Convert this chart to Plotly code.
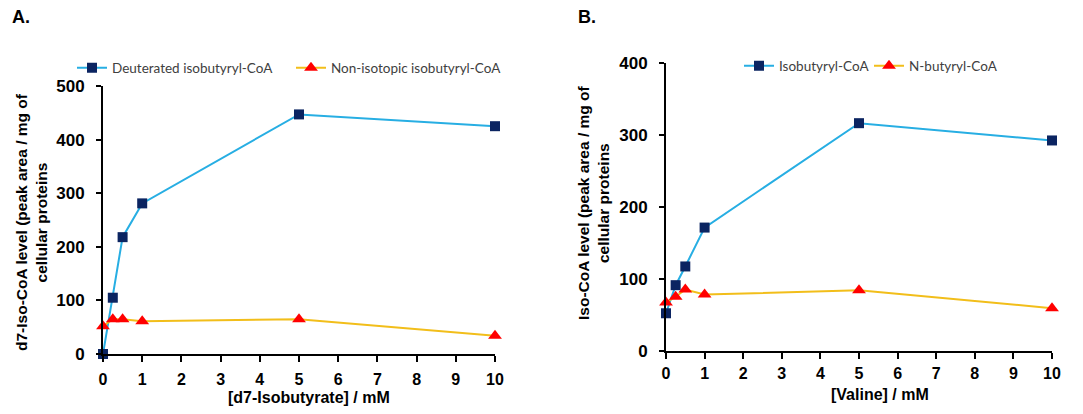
import plotly.graph_objects as go

conc = [0, 0.25, 0.5, 1, 5, 10]
a_deut = [0, 105, 218, 281, 447, 425]
a_nonis = [52, 65, 65, 61, 65, 34]
b_iso = [52, 91, 117, 171, 316, 292]
b_nbut = [67, 75, 85, 78, 84, 59]
x_ticks = list(range(0, 11))
a_yticks = [0, 100, 200, 300, 400, 500]
b_yticks = [0, 100, 200, 300, 400]

BLUE = "#27AEE3"
NAVY = "#0B2461"
YEL = "#F2BE1A"
RED = "#FF0000"

fig = go.Figure()

def add(x, y, name, line_c, mk_c, symbol, size, xa, ya, legend):
    fig.add_trace(go.Scatter(
        x=x, y=y, name=name, mode="lines+markers",
        line=dict(color=line_c, width=2),
        marker=dict(color=mk_c, symbol=symbol, size=size),
        xaxis=xa, yaxis=ya, legend=legend, cliponaxis=False))

add(conc, a_deut, "Deuterated isobutyryl-CoA", BLUE, NAVY, "square", 10, "x", "y", "legend")
add(conc, a_nonis, "Non-isotopic isobutyryl-CoA", YEL, RED, "triangle-up", 12, "x", "y", "legend")
add(conc, b_iso, "Isobutyryl-CoA", BLUE, NAVY, "square", 10, "x2", "y2", "legend2")
add(conc, b_nbut, "N-butyryl-CoA", YEL, RED, "triangle-up", 12, "x2", "y2", "legend2")

yfont = dict(family="Liberation Sans, Arial", size=17, color="black", weight="bold")
xfont = dict(family="Liberation Sans, Arial", size=16, color="black", weight="bold")
common_x = dict(range=[0, 10], tickvals=x_ticks, showgrid=False, zeroline=False,
                showline=True, linecolor="black", linewidth=2, ticks="outside",
                ticklen=6, tickwidth=1.5, tickcolor="black", tickfont=xfont)
common_y = dict(showgrid=False, zeroline=False, showline=True, linecolor="black",
                linewidth=2, ticks="outside", ticklen=5, tickwidth=1.5,
                tickcolor="black", ticklabelstandoff=8, tickfont=yfont)

legfont = dict(family="Lato, Open Sans", size=13.5, color="#404040")
fig.update_layout(
    width=1083, height=414,
    margin=dict(l=0, r=0, t=0, b=0, pad=0, autoexpand=False),
    paper_bgcolor="white", plot_bgcolor="white",
    xaxis=dict(common_x, domain=[103/1083, 495/1083], anchor="y", ticklabelstandoff=4),
    yaxis=dict(common_y, domain=[(414-354)/414, (414-86)/414], range=[0, 500],
               tickvals=a_yticks, anchor="x"),
    xaxis2=dict(common_x, domain=[666/1083, 1052/1083], anchor="y2", ticklabelstandoff=1),
    yaxis2=dict(common_y, domain=[(414-350.7)/414, (414-62.7)/414], range=[0, 400],
                tickvals=b_yticks, anchor="x2"),
    legend=dict(orientation="h", x=72/1083, y=1-68/414, xanchor="left", yanchor="middle",
                font=legfont, bgcolor="rgba(0,0,0,0)", itemwidth=30, entrywidth=174),
    legend2=dict(orientation="h", x=739/1083, y=1-66/414, xanchor="left", yanchor="middle",
                 font=legfont, bgcolor="rgba(0,0,0,0)", itemwidth=30, entrywidth=85),
    showlegend=True,
)

tfont = dict(family="Liberation Sans, Arial", size=15.5, color="black", weight="bold")
ann = [
    dict(text="A.", x=10/1083, y=1-17/414, xanchor="left", yanchor="middle",
         font=dict(tfont, size=18)),
    dict(text="B.", x=576/1083, y=1-17/414, xanchor="left", yanchor="middle",
         font=dict(tfont, size=18)),
    dict(text="d7-Iso-CoA level (peak area / mg of<br>cellular proteins", x=31/1083,
         y=1-222/414, textangle=-90, xanchor="center", yanchor="middle", font=tfont),
    dict(text="Iso-CoA level (peak area / mg of<br>cellular proteins", x=594/1083,
         y=1-203/414, textangle=-90, xanchor="center", yanchor="middle", font=tfont),
    dict(text="[d7-Isobutyrate] / mM", x=309/1083, y=1-397/414, xanchor="center",
         yanchor="middle", font=dict(tfont, size=16)),
    dict(text="[Valine] / mM", x=880/1083, y=1-394/414, xanchor="center",
         yanchor="middle", font=dict(tfont, size=16)),
]
for a in ann:
    fig.add_annotation(xref="paper", yref="paper", showarrow=False, **a)

fig.write_html("out.html")
